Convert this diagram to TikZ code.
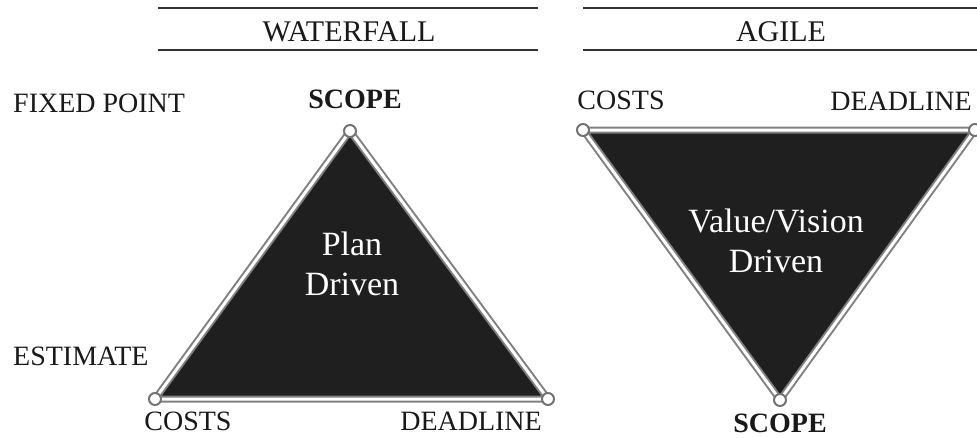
\documentclass[tikz,border=0pt]{standalone}
\usepackage{fontspec}
\setmainfont{Liberation Serif}
\usepackage{tikz}

\tikzset{
  tri/.style={fill=black!88, draw=gray, line width=2pt, double=white, double distance=3pt, line join=round},
  vtx/.style={circle, draw=gray!90!black, fill=white, line width=2pt, minimum size=12pt, inner sep=0pt},
  lbl/.style={font=\fontsize{28}{28}\selectfont, text=black!90, inner sep=0pt},
  head/.style={font=\fontsize{30}{30}\selectfont, text=black!90, inner sep=0pt},
  inside/.style={font=\fontsize{34}{40}\selectfont, text=white, align=center, inner sep=0pt},
  rule/.style={draw=black!80, line width=2.5pt}
}

\begin{document}
\begin{tikzpicture}[x=1pt,y=-1pt]
   \useasboundingbox (0,0) rectangle (977,437);

   % headings
   \draw[rule] (158,8) -- (538,8);
   \draw[rule] (158,50) -- (538,50);
   \draw (349,41) node[head,anchor=base] (waterfall) {WATERFALL};
   \draw[rule] (583,8) -- (977,8);
   \draw[rule] (583,50) -- (977,50);
   \draw (781,41) node[head,anchor=base] (agile) {AGILE};

   % row labels
   \draw (13,112) node[lbl,anchor=base west] (fixed) {FIXED POINT};
   \draw (13,365) node[lbl,anchor=base west] (estimate) {ESTIMATE};

   % waterfall triangle
   \coordinate (wtop) at (350,131);
   \coordinate (wleft) at (155,399);
   \coordinate (wright) at (548,399);
   \path[tri] (wtop) -- (wleft) -- (wright) -- cycle;
   \draw (wtop) node[vtx] (wscope) {};
   \draw (wleft) node[vtx] (wcosts) {};
   \draw (wright) node[vtx] (wdeadline) {};
   \draw (352,295) node[inside,anchor=base] (plan) {Plan\\Driven};
   \draw (355,108) node[lbl,anchor=base,font=\fontsize{28}{28}\selectfont\bfseries] (wscopetext) {SCOPE};
   \draw (188,430) node[lbl,anchor=base] (wcoststext) {COSTS};
   \draw (542,430) node[lbl,anchor=base east] (wdeadlinetext) {DEADLINE};

   % agile triangle
   \coordinate (aleft) at (583,130);
   \coordinate (aright) at (975,130);
   \coordinate (abottom) at (780,400);
   \path[tri] (aleft) -- (aright) -- (abottom) -- cycle;
   \draw (aleft) node[vtx] (acosts) {};
   \draw (aright) node[vtx] (adeadline) {};
   \draw (abottom) node[vtx] (ascope) {};
   \draw (776,272) node[inside,anchor=base] (value) {Value/Vision\\Driven};
   \draw (621,109) node[lbl,anchor=base] (acoststext) {COSTS};
   \draw (972,110) node[lbl,anchor=base east] (adeadlinetext) {DEADLINE};
   \draw (780,432) node[lbl,anchor=base,font=\fontsize{28}{28}\selectfont\bfseries] (ascopetext) {SCOPE};
\end{tikzpicture}
\end{document}
